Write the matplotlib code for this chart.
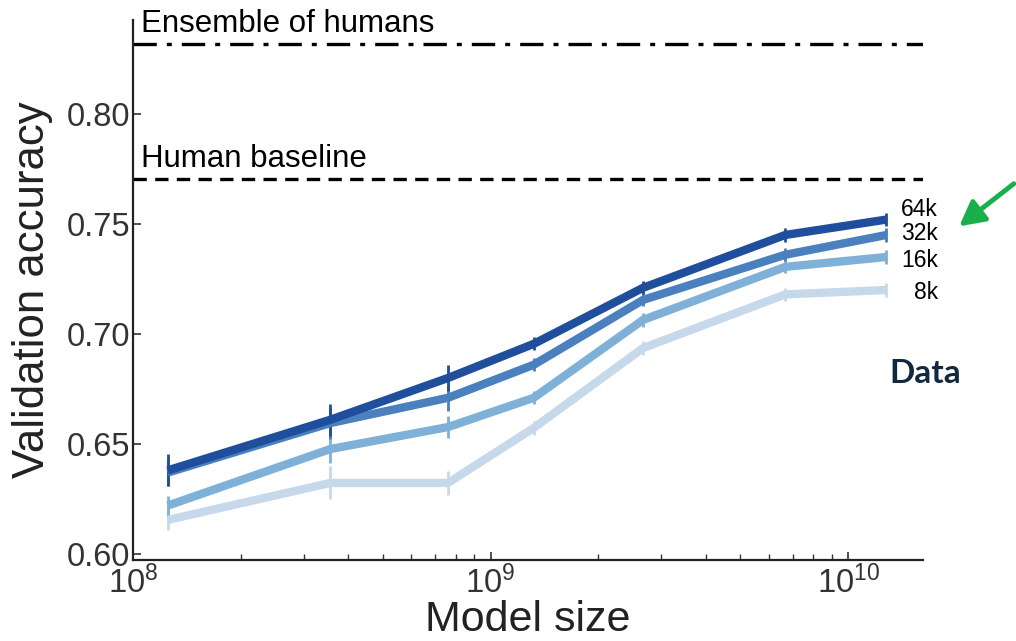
import matplotlib
matplotlib.use('Agg')
from matplotlib import pyplot as plt
from matplotlib.ticker import LogLocator, NullFormatter
import numpy as np

plt.rcParams['font.family'] = ['Liberation Sans', 'DejaVu Sans']
plt.rcParams['mathtext.fontset'] = 'custom'
plt.rcParams['mathtext.rm'] = 'Liberation Sans'

# model sizes (parameters)
model_size = [1.25e8, 3.56e8, 7.6e8, 1.32e9, 2.67e9, 6.67e9, 1.28e10]

# validation accuracy per training-set size
acc_8k = [0.6155, 0.6323, 0.6323, 0.6573, 0.6936, 0.7180, 0.7200]
acc_16k = [0.6220, 0.6477, 0.6577, 0.6710, 0.7064, 0.7305, 0.7350]
acc_32k = [0.6370, 0.6595, 0.6710, 0.6860, 0.7155, 0.7360, 0.7450]
acc_64k = [0.6380, 0.6610, 0.6800, 0.6955, 0.7210, 0.7450, 0.7520]

err_8k = [0.0045, 0.0075, 0.0055, 0.003, 0.003, 0.003, 0.003]
err_16k = [0.0045, 0.0065, 0.005, 0.003, 0.003, 0.003, 0.003]
err_32k = [0.006, 0.007, 0.006, 0.003, 0.003, 0.003, 0.003]
err_64k = [0.0073, 0.0073, 0.006, 0.003, 0.003, 0.003, 0.003]

series_names = ['8k', '16k', '32k', '64k']
label_y = [0.7190, 0.7336, 0.7455, 0.7566]

human_baseline = 0.7705
human_ensemble = 0.8320


def main():
	fig = plt.figure(figsize=(10.16, 6.41), dpi=100)
	ax = fig.add_axes([0.1309, 0.1264, 0.7776, 0.8424])

	colors = ['#c6d9ea', '#7eb0d8', '#4a80bd', '#1f4e9c']
	accs = [acc_8k, acc_16k, acc_32k, acc_64k]
	errs = [err_8k, err_16k, err_32k, err_64k]

	for acc, err, c in zip(accs, errs, colors):
		ax.errorbar(model_size, acc, yerr=err, color=c, lw=6,
		            elinewidth=2, capsize=0, solid_capstyle='butt')

	# human reference lines
	ax.axhline(human_ensemble, color='black', lw=2.4, ls=(0, (7, 3, 1.5, 3)))
	ax.axhline(human_baseline, color='black', lw=2.4, ls=(0, (4, 2.5)))
	ax.text(1.05e8, human_ensemble + 0.0022, 'Ensemble of humans', fontsize=22.5,
	        va='bottom', ha='left')
	ax.text(1.05e8, human_baseline + 0.0022, 'Human baseline', fontsize=22.5,
	        va='bottom', ha='left')

	for name, y in zip(series_names, label_y):
		ax.text(1.019, y, name, transform=ax.get_yaxis_transform(),
		        fontsize=16.5, ha='right', va='center', clip_on=False)

	ax.set_xscale('log')
	ax.set_xlim(1e8, 1.62e10)
	ax.set_ylim(0.5973, 0.8427)
	ax.set_yticks(np.arange(0.60, 0.801, 0.05))
	ax.set_yticklabels(['%.2f' % v for v in np.arange(0.60, 0.801, 0.05)])
	ax.xaxis.set_minor_locator(LogLocator(base=10, subs=np.arange(2, 10)))
	ax.xaxis.set_minor_formatter(NullFormatter())

	ax.spines['right'].set_color('none')
	ax.spines['top'].set_color('none')
	ax.spines['left'].set_linewidth(1.6)
	ax.spines['bottom'].set_linewidth(1.6)
	ax.spines['left'].set_color('#222222')
	ax.spines['bottom'].set_color('#222222')

	ax.tick_params(axis='both', which='major', direction='in', length=6,
	               width=1.2, labelsize=23.5, labelcolor='#333333', color='#333333')
	ax.tick_params(axis='x', which='minor', direction='in', length=4,
	               width=1, color='#333333')
	ax.tick_params(axis='y', pad=2)
	ax.tick_params(axis='x', pad=4)

	ax.set_xlabel('Model size', fontsize=31, labelpad=0, color='#222222')
	ax.set_ylabel('Validation accuracy', fontsize=31.5, labelpad=10, color='#222222')

	# overlay annotations
	fig.text(0.9104, 0.4180, 'Data', fontsize=24, fontweight='bold',
	         color='#10293f', family=['Lato', 'DejaVu Sans'],
	         ha='center', va='center')
	ax.annotate('', xy=(957 / 1016, 1 - 228 / 641), xycoords='figure fraction',
	            xytext=(1016 / 1016, 1 - 182 / 641), textcoords='figure fraction',
	            arrowprops=dict(arrowstyle='-|>,head_length=1.5,head_width=0.8',
	                            color='#19b04b', lw=3.5),
	            annotation_clip=False)

	fig.savefig('out.png', dpi=100)


if __name__ == '__main__':
	main()
